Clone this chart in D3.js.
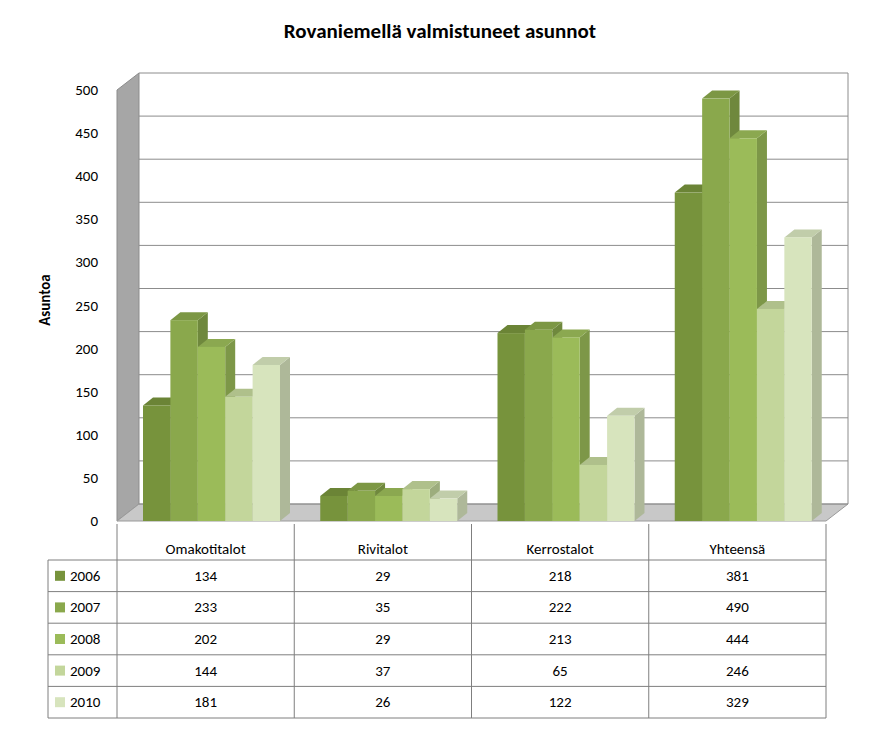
<!DOCTYPE html>
<html><head><meta charset="utf-8">
<script src="https://cdn.jsdelivr.net/npm/d3@7"></script>
<style>body{margin:0;background:#fff;font-family:Calibri,Carlito,"Liberation Sans",sans-serif}</style>
</head><body><svg id="c" width="879" height="732"></svg>
<script>
const categories = ["Omakotitalot", "Rivitalot", "Kerrostalot", "Yhteensä"];
const years = ["2006", "2007", "2008", "2009", "2010"];
const values = [
  [134, 29, 218, 381],
  [233, 35, 222, 490],
  [202, 29, 213, 444],
  [144, 37, 65, 246],
  [181, 26, 122, 329]
];
const yTicks = [0, 50, 100, 150, 200, 250, 300, 350, 400, 450, 500];
const colors = ["#77933c", "#8aa84c", "#9bbb59", "#c3d69b", "#d7e4bd"];

const svg = d3.select("#c");
const left = 117, right = 826, dx = 22, dy = -17;
const y = d3.scaleLinear().domain([0, 500]).range([521, 90]);
const x0 = d3.scaleBand().domain(categories).range([left, right]);
const x1 = d3.scaleBand().domain(years).range([26, 163]);

svg.append("text").attr("x", 440).attr("y", 38).attr("text-anchor", "middle")
  .attr("font-size", 21).attr("font-weight", "bold").text("Rovaniemellä valmistuneet asunnot");

// walls
svg.append("polygon").attr("fill", "#a6a6a6").attr("stroke", "#8c8c8c")
  .attr("points", [[left, y(500)], [left + dx, y(500) + dy], [left + dx, y(0) + dy], [left, y(0)]].join(" "));
svg.append("polygon").attr("fill", "#c8c8c8").attr("stroke", "#9a9a9a")
  .attr("points", [[left, y(0)], [left + dx, y(0) + dy], [right + dx, y(0) + dy], [right, y(0)]].join(" "));
yTicks.forEach(t => {
  svg.append("line").attr("x1", left + dx).attr("x2", right + dx)
    .attr("y1", y(t) + dy).attr("y2", y(t) + dy).attr("stroke", "#8c8c8c");
  svg.append("text").attr("x", 98).attr("y", y(t) + 5).attr("text-anchor", "end")
    .attr("font-size", 15).text(t);
});
svg.append("line").attr("x1", right + dx).attr("x2", right + dx)
  .attr("y1", y(500) + dy).attr("y2", y(0) + dy).attr("stroke", "#8c8c8c");
svg.append("text").attr("transform", "translate(50,300) rotate(-90)").attr("text-anchor", "middle")
  .attr("font-size", 15).attr("font-weight", "bold").text("Asuntoa");

// bars
const bw = x1.bandwidth(), bdx = 10, bdy = -8;
categories.forEach((c, ci) => {
  years.forEach((yr, yi) => {
    const v = values[yi][ci];
    const bx = x0(c) + x1(yr), top = y(v), bot = y(0);
    const col = d3.color(colors[yi]);
    const g = svg.append("g");
    g.append("polygon").attr("fill", col.darker(0.6))
      .attr("points", [[bx + bw, top], [bx + bw + bdx, top + bdy], [bx + bw + bdx, bot + bdy], [bx + bw, bot]].join(" "));
    g.append("polygon").attr("fill", col.darker(0.3))
      .attr("points", [[bx, top], [bx + bdx, top + bdy], [bx + bw + bdx, top + bdy], [bx + bw, top]].join(" "));
    g.append("rect").attr("x", bx).attr("y", top).attr("width", bw).attr("height", bot - top).attr("fill", colors[yi]);
  });
});

// data table
const tTop = 524, hH = 36, rH = 31.6, lx = 48;
const tl = "#7f7f7f";
svg.append("line").attr("x1", left).attr("x2", left).attr("y1", tTop).attr("y2", tTop + hH + rH * 5).attr("stroke", tl);
categories.forEach(c => {
  svg.append("line").attr("x1", x0(c) + x0.bandwidth()).attr("x2", x0(c) + x0.bandwidth())
    .attr("y1", tTop).attr("y2", tTop + hH + rH * 5).attr("stroke", tl);
  svg.append("text").attr("x", x0(c) + x0.bandwidth() / 2).attr("y", tTop + hH - 6)
    .attr("text-anchor", "middle").attr("font-size", 15).text(c);
});
svg.append("line").attr("x1", lx).attr("x2", lx).attr("y1", tTop + hH).attr("y2", tTop + hH + rH * 5).attr("stroke", tl);
for (let i = 0; i <= 5; i++) {
  svg.append("line").attr("x1", lx).attr("x2", right).attr("y1", tTop + hH + rH * i).attr("y2", tTop + hH + rH * i).attr("stroke", tl);
}
years.forEach((yr, yi) => {
  const ry = tTop + hH + rH * yi;
  svg.append("rect").attr("x", 55).attr("y", ry + rH / 2 - 5).attr("width", 10).attr("height", 10).attr("fill", colors[yi]);
  svg.append("text").attr("x", 70).attr("y", ry + rH / 2 + 5).attr("font-size", 15).text(yr);
  categories.forEach((c, ci) => {
    svg.append("text").attr("x", x0(c) + x0.bandwidth() / 2).attr("y", ry + rH / 2 + 5)
      .attr("text-anchor", "middle").attr("font-size", 15).text(values[yi][ci]);
  });
});
</script></body></html>
